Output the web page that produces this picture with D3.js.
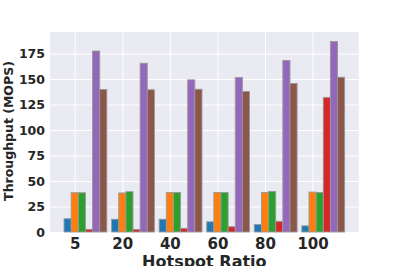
<!DOCTYPE html>
<html>
<head>
<meta charset="utf-8">
<script src="https://cdn.jsdelivr.net/npm/d3@7"></script>
<style>
  html, body { margin: 0; padding: 0; background: #fff; }
  svg { display: block; font-family: "DejaVu Sans", sans-serif; font-weight: bold; }
</style>
</head>
<body>
<svg id="chart" width="399" height="266"></svg>
<script>
// hotspot ratio groups
const ratios = ["5", "20", "40", "60", "80", "100"];
// throughput (MOPS) per series, one value per ratio
const blueVals   = [13, 12.5, 12.5, 10, 7.3, 6];
const orangeVals = [38.5, 38.3, 38.8, 38.8, 38.8, 39.2];
const greenVals  = [38.5, 39.5, 38.8, 38.8, 39.8, 38.8];
const redVals    = [2.6, 2.6, 3.6, 5.2, 10.5, 132];
const purpleVals = [177.5, 165.5, 149.2, 151.5, 168.2, 186.8];
const brownVals  = [139.8, 139.5, 140, 137.8, 145.6, 151.8];
const yTicks = [0, 25, 50, 75, 100, 125, 150, 175];

const series = [blueVals, orangeVals, greenVals, redVals, purpleVals, brownVals];
const COLORS = ["#1f77b4", "#ff7f0e", "#2ca02c", "#d62728", "#9467bd", "#8c564b"];

const m = { top: 32, right: 40.3, bottom: 34, left: 50 };
const W = 399, H = 266;
const w = W - m.left - m.right;
const h = H - m.top - m.bottom;
const barW = 0.15;

const svg = d3.select("#chart");
const g = svg.append("g").attr("transform", `translate(${m.left},${m.top})`);

// group index as x position, bars offset by barW, matplotlib-style 5% margins
const lo = -barW / 2, hi = ratios.length - 1 + (series.length - 1) * barW + barW / 2;
const pad = (hi - lo) * 0.05;
const x = d3.scaleLinear().domain([lo - pad, hi + pad]).range([0, w]);
const yMax = d3.max(series.flat()) * 1.05;
const y = d3.scaleLinear().domain([0, yMax]).range([h, 0]);

g.append("rect").attr("width", w).attr("height", h).attr("fill", "#eaeaf2");

const tickPos = ratios.map((r, i) => i + barW);

g.append("g")
    .call(d3.axisLeft(y).tickValues(yTicks).tickSize(-w).tickFormat(""))
    .call(a => a.select(".domain").remove())
    .call(a => a.selectAll("line").attr("stroke", "#fff").attr("stroke-width", 1));

g.append("g")
    .call(d3.axisBottom(x).tickValues(tickPos).tickSize(h).tickFormat(""))
    .call(a => a.select(".domain").remove())
    .call(a => a.selectAll("line").attr("stroke", "#fff").attr("stroke-width", 1));

series.forEach((vals, s) => {
    g.selectAll(".bar-" + s).data(vals).enter().append("rect")
        .attr("class", "bar-" + s)
        .attr("x", (d, i) => x(i + s * barW - barW / 2))
        .attr("width", x(barW) - x(0))
        .attr("y", d => y(d))
        .attr("height", d => y(0) - y(d))
        .attr("fill", COLORS[s])
        .attr("stroke", "#999")
        .attr("stroke-width", 0.9);
});

// y tick labels
g.append("g")
    .call(d3.axisLeft(y).tickValues(yTicks).tickSize(0).tickPadding(5))
    .call(a => a.select(".domain").remove())
    .call(a => a.selectAll("text").attr("fill", "#262626")
        .attr("font-size", 12.5).attr("font-weight", "bold")
        .attr("font-family", "DejaVu Sans"));

// x tick labels
g.append("g").attr("transform", `translate(0,${h})`)
    .call(d3.axisBottom(x).tickValues(tickPos).tickSize(0).tickPadding(6)
        .tickFormat((d, i) => ratios[i]))
    .call(a => a.select(".domain").remove())
    .call(a => a.selectAll("text").attr("fill", "#262626")
        .attr("font-size", 15).attr("font-weight", "bold")
        .attr("font-family", "DejaVu Sans"));

svg.append("text")
    .attr("x", m.left + w / 2).attr("y", 267)
    .attr("text-anchor", "middle")
    .attr("fill", "#262626").attr("font-size", 16)
    .text("Hotspot Ratio");

svg.append("text")
    .attr("transform", `translate(13,${m.top + h / 2 - 1}) rotate(-90)`)
    .attr("text-anchor", "middle")
    .attr("fill", "#262626").attr("font-size", 12.5)
    .text("Throughput (MOPS)");
</script>
</body>
</html>
